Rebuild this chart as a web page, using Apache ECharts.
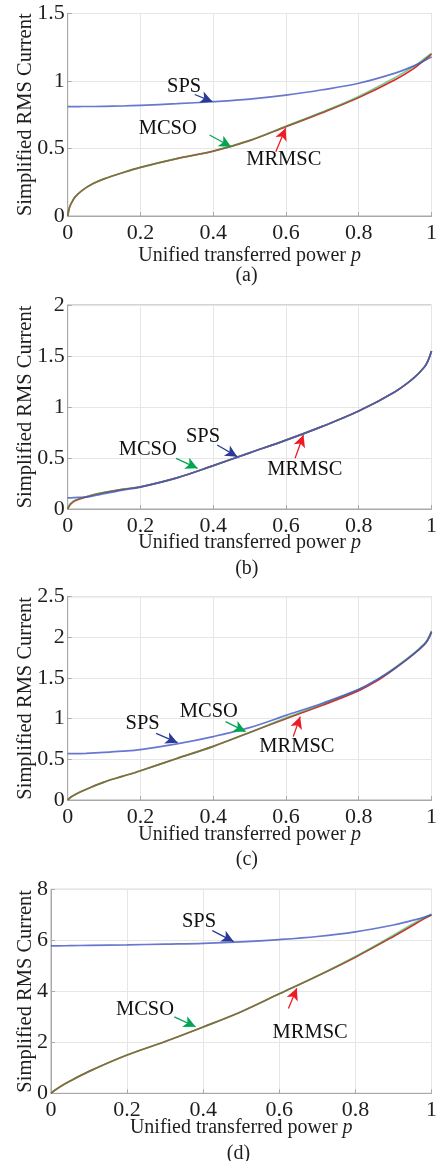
<!DOCTYPE html>
<html>
<head>
<meta charset="utf-8">
<script src="https://cdn.jsdelivr.net/npm/echarts@6/dist/echarts.min.js"></script>
<style>
html,body{margin:0;padding:0;background:#fff;}
#chart{width:440px;height:1161px;}
</style>
</head>
<body>
<div id="chart"></div>
<script>
// ---------- DATA ----------
// Panel (a)
const pA     = [0, 0.005, 0.01, 0.02, 0.04, 0.07, 0.1, 0.15, 0.2, 0.3, 0.4, 0.5, 0.6, 0.7, 0.8, 0.9, 0.95, 0.98, 1];
const spsA   = [0.81, 0.81, 0.81, 0.81, 0.811, 0.811, 0.812, 0.815, 0.82, 0.832, 0.847, 0.866, 0.895, 0.935, 0.983, 1.058, 1.11, 1.15, 1.18];
const mcsoA  = [0, 0.065, 0.095, 0.14, 0.19, 0.24, 0.275, 0.32, 0.36, 0.425, 0.48, 0.56, 0.665, 0.77, 0.885, 1.025, 1.105, 1.165, 1.205];
const mrmscA = [0, 0.065, 0.095, 0.14, 0.19, 0.24, 0.275, 0.32, 0.36, 0.425, 0.48, 0.558, 0.662, 0.766, 0.878, 1.01, 1.09, 1.155, 1.2];
// Panel (b)
const pB     = [0, 0.005, 0.01, 0.02, 0.04, 0.06, 0.08, 0.1, 0.15, 0.2, 0.3, 0.4, 0.5, 0.6, 0.7, 0.8, 0.9, 0.95, 0.98, 0.99, 1];
const spsB   = [0.11, 0.11, 0.11, 0.112, 0.115, 0.122, 0.135, 0.15, 0.185, 0.215, 0.305, 0.425, 0.55, 0.675, 0.81, 0.96, 1.15, 1.28, 1.39, 1.45, 1.55];
const mcsoB  = [0, 0.04, 0.06, 0.085, 0.11, 0.13, 0.148, 0.163, 0.193, 0.218, 0.305, 0.425, 0.55, 0.675, 0.81, 0.96, 1.15, 1.28, 1.39, 1.45, 1.55];
const mrmscB = [0, 0.035, 0.055, 0.08, 0.107, 0.128, 0.147, 0.162, 0.192, 0.217, 0.305, 0.425, 0.55, 0.675, 0.81, 0.96, 1.15, 1.28, 1.39, 1.45, 1.55];
// Panel (c)
const pC     = [0, 0.01, 0.03, 0.05, 0.1, 0.15, 0.2, 0.3, 0.4, 0.5, 0.6, 0.7, 0.8, 0.85, 0.9, 0.95, 0.98, 0.99, 1];
const spsC   = [0.57, 0.57, 0.571, 0.573, 0.585, 0.6, 0.62, 0.69, 0.78, 0.89, 1.04, 1.19, 1.36, 1.48, 1.62, 1.79, 1.91, 1.97, 2.06];
const mcsoC  = [0, 0.04, 0.09, 0.13, 0.22, 0.29, 0.36, 0.51, 0.66, 0.83, 1.01, 1.18, 1.36, 1.48, 1.63, 1.8, 1.92, 1.98, 2.08];
const mrmscC = [0, 0.04, 0.09, 0.13, 0.22, 0.29, 0.36, 0.51, 0.66, 0.83, 1.0, 1.165, 1.345, 1.465, 1.62, 1.79, 1.91, 1.97, 2.07];
// Panel (d)
const pD     = [0, 0.01, 0.02, 0.05, 0.1, 0.2, 0.3, 0.4, 0.5, 0.6, 0.7, 0.8, 0.9, 0.95, 0.98, 1];
const spsD   = [5.78, 5.78, 5.78, 5.79, 5.8, 5.82, 5.85, 5.88, 5.94, 6.03, 6.15, 6.33, 6.6, 6.78, 6.9, 7.0];
const mcsoD  = [0, 0.12, 0.22, 0.48, 0.86, 1.5, 2.03, 2.6, 3.2, 3.9, 4.6, 5.36, 6.2, 6.64, 6.88, 7.03];
const mrmscD = [0, 0.12, 0.22, 0.48, 0.86, 1.5, 2.03, 2.6, 3.2, 3.9, 4.6, 5.34, 6.15, 6.58, 6.84, 6.99];

// axis ranges / tick labels
const xTicks = [0, 0.2, 0.4, 0.6, 0.8, 1];
const yMax = [1.5, 2, 2.5, 8];
const yStep = [0.5, 0.5, 0.5, 2];
const panelLabels = ['(a)', '(b)', '(c)', '(d)'];
const seriesNames = ['SPS', 'MCSO', 'MRMSC'];

// annotations (data coordinates): [textX, textY, arrowFromX, arrowFromY, arrowToX, arrowToY]
const annA = { SPS: [0.32, 0.958, 0.349, 0.90, 0.398, 0.847], MCSO: [0.275, 0.65, 0.39, 0.60, 0.449, 0.513], MRMSC: [0.594, 0.415, 0.572, 0.476, 0.599, 0.65] };
const annB = { SPS: [0.372, 0.709, 0.411, 0.627, 0.466, 0.513], MCSO: [0.22, 0.578, 0.298, 0.497, 0.357, 0.399], MRMSC: [0.652, 0.382, 0.625, 0.497, 0.648, 0.725] };
const annC = { SPS: [0.206, 0.935, 0.243, 0.82, 0.302, 0.705], MCSO: [0.388, 1.086, 0.434, 0.963, 0.489, 0.84], MRMSC: [0.63, 0.656, 0.62, 0.779, 0.639, 1.025] };
const annD = { SPS: [0.389, 6.73, 0.424, 6.38, 0.48, 5.95], MCSO: [0.247, 3.29, 0.324, 3.0, 0.38, 2.61], MRMSC: [0.681, 2.38, 0.624, 3.33, 0.646, 4.12] };

// ---------- LAYOUT / STYLE ----------
const FONT = '"Liberation Serif", "Times New Roman", serif';
const TXT = '#1e1e1e';
const grids = [
  { left: 67.7, top: 13.5, width: 365.6, height: 202.5 },
  { left: 67.7, top: 305, width: 366.3, height: 204 },
  { left: 67.7, top: 596.7, width: 366.3, height: 203.3 },
  { left: 51, top: 889.3, width: 383, height: 204 }
];
const yNameGap = [32, 32, 32, 15];
const xNameGap = [30, 24, 25, 24];
const lineColors = { SPS: '#4455c2', MCSO: '#1fae4c', MRMSC: '#e3262b' };
const arrowColors = { SPS: '#2b3a97', MCSO: '#00a651', MRMSC: '#ed1c24' };

const panels = [
  { p: pA, sps: spsA, mcso: mcsoA, mrmsc: mrmscA, ann: annA },
  { p: pB, sps: spsB, mcso: mcsoB, mrmsc: mrmscB, ann: annB },
  { p: pC, sps: spsC, mcso: mcsoC, mrmsc: mrmscC, ann: annC },
  { p: pD, sps: spsD, mcso: mcsoD, mrmsc: mrmscD, ann: annD }
];

const pairs = (xs, ys) => xs.map((x, i) => [x, ys[i]]);

const option = {
  animation: false,
  backgroundColor: '#fff',
  grid: [], xAxis: [], yAxis: [], series: [], graphic: []
};

panels.forEach((pn, i) => {
  option.grid.push(Object.assign({ show: true, borderColor: '#a9a9a9', borderWidth: 1, backgroundColor: 'transparent' }, grids[i]));
  option.xAxis.push({
    type: 'value', gridIndex: i, min: 0, max: 1, interval: 0.2,
    name: 'Unified transferred power {i|p}',
    nameLocation: 'middle', nameGap: xNameGap[i], nameMoveOverlap: false,
    nameTextStyle: { fontFamily: FONT, fontSize: 20, color: TXT, rich: { i: { fontFamily: FONT, fontSize: 20, fontStyle: 'italic', color: TXT } } },
    axisLine: { show: true, lineStyle: { color: '#a9a9a9', width: 1 } },
    axisTick: { show: true, inside: true, length: 4, lineStyle: { color: '#a9a9a9' } },
    axisLabel: { fontFamily: FONT, fontSize: 22, color: TXT, margin: 6, showMinLabel: true, showMaxLabel: true, hideOverlap: false,
      formatter: v => String(+v.toFixed(1)) },
    splitLine: { show: true, lineStyle: { color: '#e6e6e6', width: 1 } }
  });
  option.yAxis.push({
    type: 'value', gridIndex: i, min: 0, max: yMax[i], interval: yStep[i],
    name: 'Simplified RMS Current',
    nameLocation: 'middle', nameGap: yNameGap[i], nameRotate: 90, nameMoveOverlap: false,
    nameTextStyle: { fontFamily: FONT, fontSize: 20.5, color: TXT },
    axisLine: { show: true, lineStyle: { color: '#a9a9a9', width: 1 } },
    axisTick: { show: true, inside: true, length: 4, lineStyle: { color: '#a9a9a9' } },
    axisLabel: { fontFamily: FONT, fontSize: 22, color: TXT, margin: 3, showMinLabel: true, showMaxLabel: true,
      formatter: v => String(+v.toFixed(1)) },
    splitLine: { show: true, lineStyle: { color: '#e6e6e6', width: 1 } }
  });

  const seriesData = { SPS: pn.sps, MCSO: pn.mcso, MRMSC: pn.mrmsc };
  const order = ['MRMSC', 'MCSO', 'SPS'];
  const opac = { MRMSC: 1, MCSO: 0.6, SPS: 0.8 };
  order.forEach(name => {
    const a = pn.ann[name];
    option.series.push({
      type: 'line', name: name, xAxisIndex: i, yAxisIndex: i,
      data: pairs(pn.p, seriesData[name]),
      showSymbol: false, symbol: 'none', smooth: 0.35, silent: true,
      lineStyle: { color: lineColors[name], width: 1.7, opacity: opac[name] },
      markLine: {
        silent: true, animation: false,
        symbol: ['none', 'arrow'], symbolSize: [9, 12],
        label: { show: false },
        lineStyle: { color: arrowColors[name], width: 1.3, type: 'solid' },
        data: [[{ coord: [a[2], a[3]] }, { coord: [a[4], a[5]] }]]
      },
      markPoint: {
        silent: true, animation: false,
        symbol: 'circle', symbolSize: 1,
        itemStyle: { color: 'rgba(0,0,0,0)' },
        label: { show: true, position: 'inside', formatter: name, fontFamily: FONT, fontSize: 20.5, color: '#111' },
        data: [{ coord: [a[0], a[1]] }]
      }
    });
  });

  const g = grids[i];
  option.graphic.push({
    type: 'text', silent: true,
    x: g.left + g.width / 2 - 4, y: g.top + g.height + 60,
    style: { text: panelLabels[i], font: '20px ' + FONT, fill: TXT, textAlign: 'center', textVerticalAlign: 'middle' }
  });
});

const chart = echarts.init(document.getElementById('chart'), null, { renderer: 'canvas' });
chart.setOption(option);
</script>
</body>
</html>
